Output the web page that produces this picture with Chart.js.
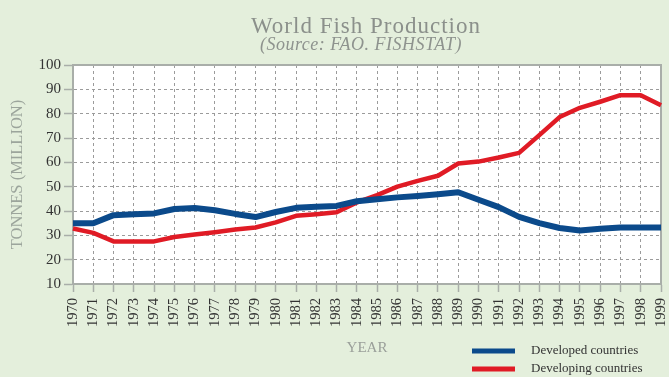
<!DOCTYPE html>
<html>
<head>
<meta charset="utf-8">
<title>World Fish Production</title>
<style>
  html, body { margin: 0; padding: 0; background: #e4efdc; }
  #wrap { width: 669px; height: 377px; }
  canvas { display: block; }
</style>
<script src="https://cdn.jsdelivr.net/npm/chart.js@4/dist/chart.umd.min.js"></script>
</head>
<body>
<div id="wrap"><canvas id="chart" width="669" height="377"></canvas></div>
<script>
// Years on the horizontal axis
const years = ['1970','1971','1972','1973','1974','1975','1976','1977','1978','1979',
               '1980','1981','1982','1983','1984','1985','1986','1987','1988','1989',
               '1990','1991','1992','1993','1994','1995','1996','1997','1998','1999'];

// Fish production, million tonnes
const developed = [35.0, 35.0, 38.3, 38.7, 39.0, 40.8, 41.2, 40.3, 38.8, 37.5,
                   39.6, 41.3, 41.7, 42.1, 44.0, 44.8, 45.6, 46.2, 46.9, 47.7,
                   44.6, 41.6, 37.6, 35.0, 33.0, 32.0, 32.7, 33.2, 33.2, 33.2];
const developing = [32.8, 31.0, 27.5, 27.5, 27.5, 29.3, 30.3, 31.3, 32.4, 33.2,
                    35.3, 38.0, 38.7, 39.5, 43.5, 46.5, 50.0, 52.4, 54.5, 59.5,
                    60.3, 62.0, 63.9, 71.2, 78.6, 82.4, 84.9, 87.6, 87.6, 83.5];

// Value axis range
const yMin = 10;
const yMax = 100;
const yStep = 10;

const seriesNames = ['Developed countries', 'Developing countries'];
const titleText = 'World Fish Production';
const subtitleText = '(Source: FAO. FISHSTAT)';

const SERIF = "'Liberation Serif', 'Times New Roman', serif";
const PAGE_BG = '#e4efdc';
const FRAME = '#a9aea9';

// Page background and white plotting area
const backdrop = {
  id: 'backdrop',
  beforeDraw(chart) {
    const { ctx, chartArea: a } = chart;
    ctx.save();
    ctx.fillStyle = PAGE_BG;
    ctx.fillRect(0, 0, chart.width, chart.height);
    ctx.fillStyle = '#ffffff';
    ctx.fillRect(a.left, a.top, a.right - a.left, a.bottom - a.top);
    ctx.restore();
  }
};

// Solid top and right edges of the plotting frame
const frame = {
  id: 'frame',
  beforeDatasetsDraw(chart) {
    const { ctx, chartArea: a } = chart;
    ctx.save();
    ctx.strokeStyle = FRAME;
    ctx.lineWidth = 2;
    ctx.beginPath();
    ctx.moveTo(a.left, a.top);
    ctx.lineTo(a.right, a.top);
    ctx.lineTo(a.right, a.bottom);
    ctx.stroke();
    ctx.restore();
  }
};

// Title and source line centred over the plot
const headings = {
  id: 'headings',
  afterDraw(chart) {
    const { ctx, chartArea: a } = chart;
    const cx = (a.left + a.right) / 2 - 1;
    ctx.save();
    ctx.textAlign = 'center';
    ctx.textBaseline = 'alphabetic';
    ctx.fillStyle = '#8b908b';
    ctx.letterSpacing = '1px';
    ctx.font = '23px ' + SERIF;
    ctx.fillText(titleText, cx, 33);
    ctx.letterSpacing = '0.5px';
    ctx.font = 'italic 18px ' + SERIF;
    ctx.fillStyle = '#8e938e';
    ctx.fillText(subtitleText, cx - 5, 50);
    ctx.restore();
  }
};

// Stacked key in the lower right corner
const key = {
  id: 'key',
  afterDraw(chart) {
    const { ctx } = chart;
    ctx.save();
    chart.data.datasets.forEach((ds, i) => {
      const y = 351 + i * 18;
      ctx.strokeStyle = ds.borderColor;
      ctx.lineWidth = 5;
      ctx.beginPath();
      ctx.moveTo(472, y);
      ctx.lineTo(515, y);
      ctx.stroke();
      ctx.fillStyle = '#333333';
      ctx.font = '13px ' + SERIF;
      ctx.textAlign = 'left';
      ctx.textBaseline = 'middle';
      ctx.fillText(ds.label, 531, y);
    });
    ctx.restore();
  }
};

new Chart(document.getElementById('chart'), {
  type: 'line',
  data: {
    labels: years,
    datasets: [
      {
        label: seriesNames[0],
        data: developed,
        borderColor: '#0b4a8b',
        borderWidth: 6,
        pointRadius: 0,
        tension: 0,
        borderJoinStyle: 'round',
        borderCapStyle: 'butt'
      },
      {
        label: seriesNames[1],
        data: developing,
        borderColor: '#e01b25',
        borderWidth: 4.5,
        pointRadius: 0,
        tension: 0,
        borderJoinStyle: 'round',
        borderCapStyle: 'butt'
      }
    ]
  },
  options: {
    responsive: false,
    animation: false,
    devicePixelRatio: 1,
    layout: { padding: { top: 65, right: 8, left: 0, bottom: 0 } },
    plugins: {
      legend: { display: false },
      title: { display: false },
      tooltip: { enabled: false }
    },
    scales: {
      x: {
        type: 'category',
        offset: false,
        grid: {
          color: '#9b9b9b',
          lineWidth: 1,
          tickColor: FRAME,
          tickLength: 8,
          tickWidth: 1.5,
          tickBorderDash: []
        },
        border: { display: true, color: FRAME, width: 2, dash: [3, 3] },
        ticks: {
          autoSkip: false,
          maxRotation: 90,
          minRotation: 90,
          padding: 6,
          color: '#333333',
          font: { family: SERIF, size: 14.5 }
        },
        title: {
          display: true,
          text: 'YEAR',
          color: '#9a9f9a',
          font: { family: SERIF, size: 15 },
          padding: { top: 0, bottom: 20 }
        },
        afterFit(scale) {
          scale.height = 93;
          scale.paddingLeft = 0;
          scale.paddingRight = 0;
        }
      },
      y: {
        min: yMin,
        max: yMax,
        grid: {
          color: '#9b9b9b',
          lineWidth: 1,
          tickColor: FRAME,
          tickLength: 9,
          tickWidth: 1.5,
          tickBorderDash: []
        },
        border: { display: true, color: FRAME, width: 2, dash: [3, 3] },
        ticks: {
          stepSize: yStep,
          padding: 3,
          color: '#333333',
          font: { family: SERIF, size: 15 }
        },
        title: {
          display: true,
          text: 'TONNES (MILLION)',
          color: '#9ca59c',
          font: { family: SERIF, size: 16.5 },
          padding: { top: 8, bottom: 0 }
        },
        afterFit(scale) {
          scale.width = 73;
          scale.paddingTop = 0;
          scale.paddingBottom = 0;
        }
      }
    }
  },
  plugins: [backdrop, frame, headings, key]
});
</script>
</body>
</html>
